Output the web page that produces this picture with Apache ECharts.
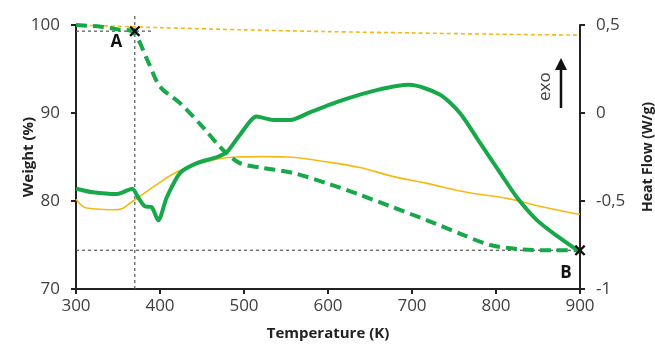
<!DOCTYPE html>
<html>
<head>
<meta charset="utf-8">
<script src="https://cdn.jsdelivr.net/npm/echarts@6/dist/echarts.min.js"></script>
<style>
  html, body { margin: 0; padding: 0; background: #fff; }
  #chart { width: 655px; height: 346px; }
</style>
</head>
<body>
<div id="chart"></div>
<script>
// weight curves (left axis, %)
const weightGreen = [
  [300, 100], [330, 99.8], [350, 99.5], [368, 99.2], [385, 96.0], [400, 93.0],
  [424, 91.1], [451, 88.4], [475, 85.8], [495, 84.3], [519, 83.8], [558, 83.2],
  [599, 82.0], [638, 80.7], [677, 79.3], [718, 77.8], [757, 76.3], [793, 75.0],
  [832, 74.5], [870, 74.4], [900, 74.4]
];
const weightOrange = [
  [300, 100], [400, 99.7], [500, 99.45], [600, 99.25], [700, 99.1], [800, 98.95], [900, 98.85]
];
// heat flow curves (right axis, W/g)
const heatGreen = [
  [300, -0.43], [320, -0.45], [349, -0.46], [367, -0.43], [374, -0.48], [382, -0.53],
  [390, -0.535], [398, -0.61], [408, -0.48], [424, -0.34], [444, -0.285], [468, -0.25],
  [480, -0.22], [495, -0.125], [515, -0.02], [535, -0.04], [555, -0.04], [579, 0.005],
  [618, 0.074], [658, 0.13], [697, 0.16], [733, 0.105], [757, 0.0], [781, -0.17],
  [805, -0.34], [825, -0.48], [849, -0.61], [873, -0.70], [900, -0.79]
];
const heatOrange = [
  [300, -0.49], [313, -0.54], [349, -0.55], [368, -0.50], [392, -0.42], [420, -0.335],
  [451, -0.28], [491, -0.25], [523, -0.248], [551, -0.25], [599, -0.278], [638, -0.31],
  [677, -0.36], [718, -0.40], [765, -0.45], [813, -0.485], [852, -0.53], [892, -0.57], [900, -0.575]
];
// reference points A and B (weight axis)
const pointA = [370, 99.3];
const pointB = [900, 74.4];
const guideVertical = [[370, 70], [370, 101.2]];
const guideTop = [[300, 99.3], [390, 99.3]];
const guideBottom = [[300, 74.4], [900, 74.4]];
const xTicks = [300, 400, 500, 600, 700, 800, 900];

const green = '#17a84a';
const orange = '#f6b914';
const textColor = '#404040';
const fontFamily = '"Open Sans", sans-serif';
const xMark = 'path://M0,1.5L1.5,0L5,3.5L8.5,0L10,1.5L6.5,5L10,8.5L8.5,10L5,6.5L1.5,10L0,8.5L3.5,5Z';

const chart = echarts.init(document.getElementById('chart'));

const axisLineStyle = { color: '#222', width: 2 };

const option = {
  animation: false,
  grid: { left: 76, right: 75, top: 25, bottom: 57, outerBoundsMode: 'none', containLabel: false },
  xAxis: {
    type: 'value',
    min: xTicks[0],
    max: xTicks[xTicks.length - 1],
    interval: 100,
    name: 'Temperature (K)',
    nameLocation: 'middle',
    nameGap: 37,
    nameTextStyle: { color: '#222', fontWeight: 'bold', fontSize: 15, fontFamily },
    axisLine: { onZero: false, lineStyle: axisLineStyle },
    axisTick: { show: true, length: 5, lineStyle: axisLineStyle },
    axisLabel: { color: textColor, fontSize: 17, fontFamily, margin: 9 },
    splitLine: { show: false }
  },
  yAxis: [
    {
      type: 'value',
      min: 70,
      max: 100,
      interval: 10,
      name: 'Weight (%)',
      nameLocation: 'middle',
      nameGap: 40,
      nameMoveOverlap: false,
      nameTextStyle: { color: '#222', fontWeight: 'bold', fontSize: 15, fontFamily, padding: [7, 0, 0, 0] },
      axisLine: { show: true, onZero: false, lineStyle: axisLineStyle },
      axisTick: { show: true, length: 5, lineStyle: axisLineStyle },
      axisLabel: { color: textColor, fontSize: 17, fontFamily, margin: 16 },
      splitLine: { show: false }
    },
    {
      type: 'value',
      min: -1,
      max: 0.5,
      interval: 0.5,
      position: 'right',
      name: 'Heat Flow (W/g)',
      nameLocation: 'middle',
      nameGap: 61,
      nameRotate: 90,
      nameTextStyle: { color: '#222', fontWeight: 'bold', fontSize: 14, fontFamily },
      axisLine: { show: true, onZero: false, lineStyle: axisLineStyle },
      axisTick: { show: true, length: 5, lineStyle: axisLineStyle },
      axisLabel: {
        color: textColor, fontSize: 17, fontFamily, margin: 16,
        formatter: v => String(v).replace('.', ',')
      },
      splitLine: { show: false }
    }
  ],
  series: [
    {
      type: 'line', data: guideVertical, yAxisIndex: 0, symbol: 'none', clip: false, silent: true,
      lineStyle: { color: '#555', width: 1.2, type: [3, 3] }
    },
    {
      type: 'line', data: guideTop, yAxisIndex: 0, symbol: 'none', silent: true,
      lineStyle: { color: '#555', width: 1.2, type: [3, 3] }
    },
    {
      type: 'line', data: guideBottom, yAxisIndex: 0, symbol: 'none', silent: true,
      lineStyle: { color: '#555', width: 1.2, type: [3, 3] }
    },
    {
      name: 'Weight orange', type: 'line', data: weightOrange, yAxisIndex: 0,
      symbol: 'none', smooth: 0.3,
      lineStyle: { color: orange, width: 1.6, type: [4, 3] }
    },
    {
      name: 'Heat flow orange', type: 'line', data: heatOrange, yAxisIndex: 1,
      symbol: 'none', smooth: 0.4,
      lineStyle: { color: orange, width: 1.6 }
    },
    {
      name: 'Weight green', type: 'line', data: weightGreen, yAxisIndex: 0,
      symbol: 'none', smooth: 0.3,
      lineStyle: { color: green, width: 4, type: [11, 6] }
    },
    {
      name: 'Heat flow green', type: 'line', data: heatGreen, yAxisIndex: 1,
      symbol: 'none', smooth: 0.25,
      lineStyle: { color: green, width: 4 }
    },
    {
      type: 'scatter', yAxisIndex: 0, clip: false, symbol: xMark, symbolSize: 11, z: 10,
      itemStyle: { color: '#111', opacity: 1 },
      data: [
        { value: pointA, label: { show: true, formatter: 'A', position: 'left', offset: [-2, 11] } },
        { value: pointB, label: { show: true, formatter: 'B', position: 'bottom', offset: [-14, 4] } }
      ],
      label: { color: '#111', fontWeight: 'bold', fontSize: 17, fontFamily }
    }
  ],
  graphic: [
    {
      type: 'text', x: 537, y: 101, rotation: Math.PI / 2,
      style: { text: 'exo', fill: textColor, font: '17px ' + fontFamily }
    },
    {
      type: 'line', shape: { x1: 561, y1: 108, x2: 561, y2: 68 },
      style: { stroke: '#111', lineWidth: 2.5 }
    },
    {
      type: 'polygon', shape: { points: [[555, 70], [567, 70], [561, 58]] },
      style: { fill: '#111' }
    }
  ]
};

chart.setOption(option);
</script>
</body>
</html>
